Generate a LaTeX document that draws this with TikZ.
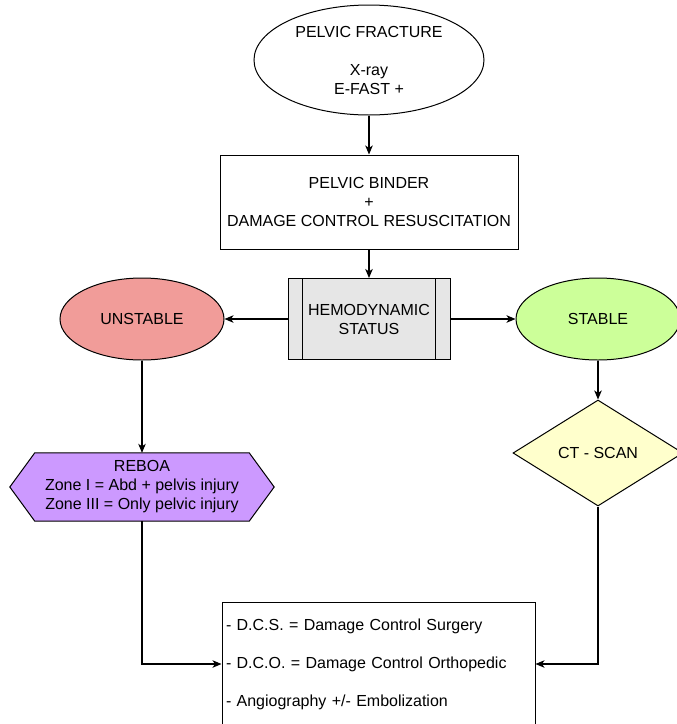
\documentclass[tikz,border=0pt]{standalone}
\usepackage{fontspec}
\setmainfont{Liberation Sans}
\usetikzlibrary{shapes.geometric,arrows.meta,backgrounds}
\definecolor{unstfill}{HTML}{F19C99}
\definecolor{stabfill}{HTML}{CCFF99}
\definecolor{reboafill}{HTML}{CC99FF}
\definecolor{ctfill}{HTML}{FFFFCC}
\definecolor{hemofill}{HTML}{E6E6E6}
\tikzset{
  every node/.style={font=\fontsize{16}{19}\selectfont, inner sep=0pt, align=center},
  outline/.style={draw=black, line width=1pt},
  oval/.style={outline, ellipse},
  boxnode/.style={outline, rectangle},
  link/.style={draw=black, line width=1.1pt, -{Stealth[length=9pt,width=7.5pt,inset=2.5pt]}},
}
\begin{document}
\begin{tikzpicture}[x=1pt, y=-1pt]
\useasboundingbox (0,0) rectangle (677,724);
\clip (0,0) rectangle (677,724);

% entry and first step
\node[oval, minimum width=230pt, minimum height=110pt] (frac) at (369,60)
  {PELVIC FRACTURE\\[19pt]X-ray\\E-FAST +};
\node[boxnode, minimum width=298pt, minimum height=94pt] (binder) at (369,202)
  {PELVIC BINDER\\+\\DAMAGE CONTROL RESUSCITATION};

% decision on haemodynamics (predefined process box)
\node[boxnode, fill=hemofill, minimum width=162pt, minimum height=81pt] (hemo) at (369,319)
  {HEMODYNAMIC\\STATUS};
\draw[line width=1pt] ([xshift=15pt]hemo.north west) -- ([xshift=15pt]hemo.south west);
\draw[line width=1pt] ([xshift=-15pt]hemo.north east) -- ([xshift=-15pt]hemo.south east);

\node[oval, fill=unstfill, minimum width=164pt, minimum height=82pt] (unst) at (142,319) {UNSTABLE};
\node[oval, fill=stabfill, minimum width=164pt, minimum height=82pt] (stab) at (598,319) {STABLE};

% REBOA hexagon, outline drawn behind its label
\node[minimum width=264pt, minimum height=68pt] (reboa) at (142,487)
  {REBOA\\Zone I = Abd + pelvis injury\\Zone III = Only pelvic injury};
\begin{pgfonlayer}{background}
\draw[line width=1pt, fill=reboafill] (reboa.west) -- ([xshift=25pt]reboa.north west)
  -- ([xshift=-25pt]reboa.north east) -- (reboa.east) -- ([xshift=-25pt]reboa.south east)
  -- ([xshift=25pt]reboa.south west) -- cycle;
\end{pgfonlayer}

\node[outline, diamond, fill=ctfill, minimum width=170pt, minimum height=106pt] (ct) at (598,453) {CT - SCAN};

% treatment options
\node[boxnode, minimum width=313pt, minimum height=124pt, text width=305pt, align=left,
  font=\fontsize{16}{38}\selectfont] (out) at (378.5,664)
  {- D.C.S. = Damage Control Surgery\\- D.C.O. = Damage Control Orthopedic\\- Angiography +/- Embolization};

% connectors
\draw[link] (frac.south) -- (binder.north);
\draw[link] (binder.south) -- (hemo.north);
\draw[link] (hemo.west) -- (unst.east);
\draw[link] (hemo.east) -- (stab.west);
\draw[link] (unst.south) -- (reboa.north);
\draw[link] (stab.south) -- (ct.north);
\draw[link] (reboa.south) |- (out.west);
\draw[link] (ct.south) |- (out.east);
\end{tikzpicture}
\end{document}
